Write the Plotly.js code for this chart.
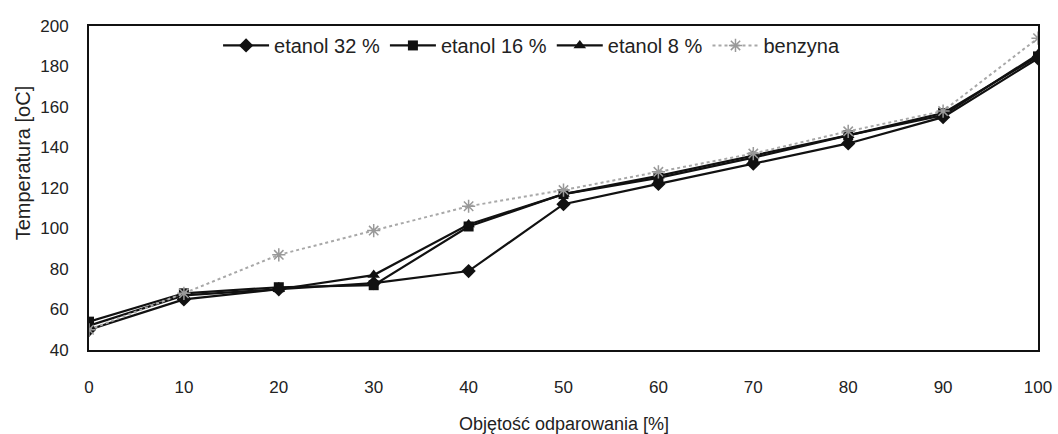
<!DOCTYPE html>
<html>
<head>
<meta charset="utf-8">
<script src="https://cdn.plot.ly/plotly-3.0.1.min.js"></script>
<style>html,body{margin:0;padding:0;background:#fff;}#chart{width:1058px;height:434px;}</style>
</head>
<body>
<div id="chart"></div>
<script>
const xValues = [0, 10, 20, 30, 40, 50, 60, 70, 80, 90, 100];
const etanol32 = [50, 65, 70, 73, 79, 112, 122, 132, 142, 155, 184];
const etanol16 = [54, 68, 71, 72, 101, 117, 125, 135, 146, 157, 185];
const etanol8 = [52, 67, 70, 77, 102, 117, 126, 136, 146, 156, 186];
const benzyna = [50, 68, 87, 99, 111, 119, 128, 137, 148, 158, 194];
const seriesNames = ['etanol 32 %', 'etanol 16 %', 'etanol 8 %', 'benzyna'];
const yTicks = [40, 60, 80, 100, 120, 140, 160, 180, 200];
const xTicks = [0, 10, 20, 30, 40, 50, 60, 70, 80, 90, 100];
const xTitle = 'Objętość odparowania [%]';
const yTitle = 'Temperatura [oC]';

const font = '"Liberation Sans", Arial, sans-serif';

const traces = [
  {x: xValues, y: etanol32, name: seriesNames[0], mode: 'lines+markers',
   line: {color: '#111', width: 2.2}, marker: {symbol: 'diamond', size: 11, color: '#111'}},
  {x: xValues, y: etanol16, name: seriesNames[1], mode: 'lines+markers',
   line: {color: '#111', width: 2.2}, marker: {symbol: 'square', size: 10, color: '#111'}},
  {x: xValues, y: etanol8, name: seriesNames[2], mode: 'lines+markers',
   line: {color: '#111', width: 2.2}, marker: {symbol: 'triangle-up', size: 11, color: '#111'}},
  {x: xValues, y: benzyna, name: seriesNames[3], mode: 'lines+markers',
   line: {color: '#a8a8a8', width: 2, dash: 'dot'},
   marker: {symbol: 'asterisk-open', size: 11, color: '#999', line: {color: '#999', width: 1.5}}}
];

const layout = {
  width: 1058, height: 434,
  margin: {l: 89, r: 20, t: 26, b: 84},
  paper_bgcolor: '#fff', plot_bgcolor: '#fff',
  font: {family: font, size: 17, color: '#222'},
  showlegend: true,
  legend: {orientation: 'h', x: 0.136, xanchor: 'left', y: 0.94, yanchor: 'middle',
           font: {family: font, size: 20, color: '#222'}, bgcolor: 'rgba(0,0,0,0)',
           itemwidth: 46, tracegroupgap: 0},
  xaxis: {range: [0, 100], tickvals: xTicks, ticktext: xTicks.map(String),
          showgrid: false, zeroline: false, showline: true, mirror: true,
          linecolor: '#111', linewidth: 2,
          ticks: 'outside', ticklen: 21, tickcolor: 'rgba(0,0,0,0)',
          tickfont: {family: font, size: 17, color: '#222'}},
  yaxis: {range: [40, 200], tickvals: yTicks, ticktext: yTicks.map(String),
          showgrid: false, zeroline: false, showline: true, mirror: true,
          linecolor: '#111', linewidth: 2,
          ticks: 'outside', ticklen: 15, tickcolor: 'rgba(0,0,0,0)',
          tickfont: {family: font, size: 17, color: '#222'}},
  annotations: [
    {text: xTitle, xref: 'paper', yref: 'paper', x: 0.5, y: -0.228,
     xanchor: 'center', yanchor: 'middle', showarrow: false,
     font: {family: font, size: 18, color: '#222'}},
    {text: yTitle, xref: 'paper', yref: 'paper', x: -0.07, y: 0.578,
     xanchor: 'center', yanchor: 'middle', textangle: -90, showarrow: false,
     font: {family: font, size: 20, color: '#222'}}
  ]
};

Plotly.newPlot('chart', traces, layout, {displayModeBar: false, staticPlot: true});
</script>
</body>
</html>
